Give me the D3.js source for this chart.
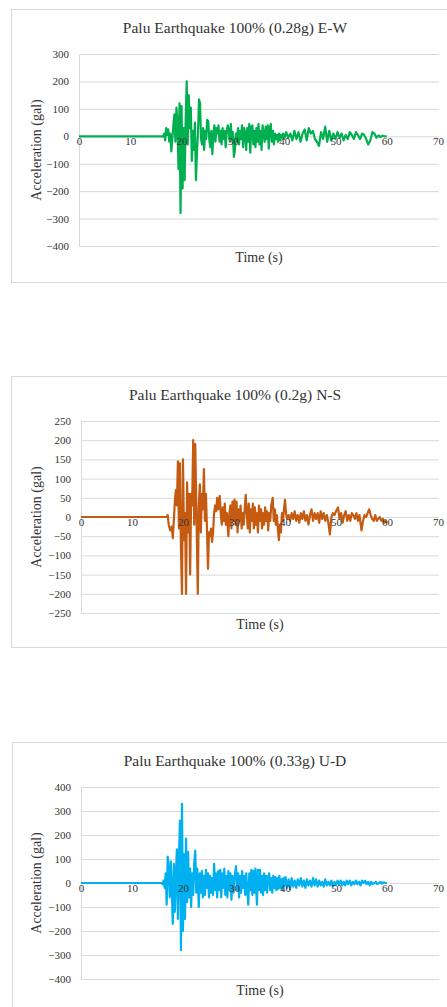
<!DOCTYPE html>
<html>
<head>
<meta charset="utf-8">
<script src="https://cdn.jsdelivr.net/npm/d3@7"></script>
<style>
  body {margin: 0; background: #fff;}
  svg text {font-family: "Liberation Serif", "Times New Roman", serif; fill: #333;}
</style>
</head>
<body>
<div class="container"></div>
<script>
// time ticks shared by all three records
let timeTicks = [0, 10, 20, 30, 40, 50, 60, 70];

let titles = [
  "Palu Earthquake 100% (0.28g) E-W",
  "Palu Earthquake 100% (0.2g) N-S",
  "Palu Earthquake 100% (0.33g) U-D"
];

let ewTicks = [-400, -300, -200, -100, 0, 100, 200, 300];
let nsTicks = [-250, -200, -150, -100, -50, 0, 50, 100, 150, 200, 250];
let udTicks = [-400, -300, -200, -100, 0, 100, 200, 300, 400];

// [time (s), acceleration (gal)]
let ewRecord = [[0,0],[16.4,0],[16.6,10],[16.8,-15],[17.0,30],[17.2,5],[17.4,25],[17.6,-20],[17.8,10],[18.0,-55],[18.2,-10],[18.4,40],[18.6,80],[18.8,-20],[19.0,105],[19.2,50],[19.4,-120],[19.6,120],[19.8,-280],[20.0,110],[20.2,-190],[20.4,30],[20.6,-160],[20.8,60],[21.0,200],[21.2,-30],[21.4,150],[21.6,30],[21.8,105],[22.0,-90],[22.2,20],[22.4,-50],[22.6,50],[22.8,-160],[23.0,-60],[23.2,10],[23.4,135],[23.6,120],[23.8,-10],[24.0,-30],[24.2,30],[24.4,-50],[24.6,20],[24.8,-10],[25.0,60],[25.2,55],[25.4,-10],[25.6,-40],[25.8,20],[26.0,-65],[26.2,10],[26.4,40],[26.6,-20],[26.8,30],[27.0,10],[27.2,40],[27.4,-20],[27.6,20],[27.8,-30],[28.0,30],[28.2,-10],[28.4,20],[28.6,-40],[28.8,15],[29.0,40],[29.2,20],[29.4,-20],[29.6,45],[29.8,-10],[30.0,15],[30.2,-75],[30.4,-50],[30.6,10],[30.8,-20],[31.0,30],[31.2,-30],[31.4,20],[31.6,-10],[31.8,40],[32.0,-40],[32.2,30],[32.4,10],[32.6,-50],[32.8,30],[33.0,-20],[33.2,45],[33.4,-60],[33.6,35],[33.8,40],[34.0,-30],[34.2,20],[34.4,-40],[34.6,30],[34.8,-20],[35.0,45],[35.2,-30],[35.4,20],[35.6,-50],[35.8,40],[36.0,10],[36.2,-20],[36.4,35],[36.6,-10],[36.8,40],[37.0,-45],[37.2,30],[37.4,45],[37.6,-20],[37.8,20],[38.0,-30],[38.2,10],[38.4,-10],[38.6,5],[38.8,-20],[39.0,10],[39.2,-15],[39.4,5],[39.6,-5],[39.8,10],[40.0,-10],[40.4,15],[40.8,-5],[41.2,10],[41.6,-15],[42.0,20],[42.4,-10],[42.8,15],[43.2,-20],[43.6,10],[44.0,25],[44.4,-15],[44.8,30],[45.2,10],[45.6,20],[46.0,-10],[46.4,-20],[46.8,-35],[47.2,15],[47.6,-10],[48.0,35],[48.4,-20],[48.8,20],[49.2,-15],[49.6,10],[50.0,-10],[50.4,15],[50.8,-5],[51.2,10],[51.6,-15],[52.0,5],[52.4,-10],[52.8,15],[53.2,5],[53.6,-10],[54.0,15],[54.4,5],[54.8,-10],[55.2,10],[55.6,5],[56.0,-10],[56.4,-30],[56.8,-15],[57.2,15],[57.6,10],[58.0,-5],[58.4,3],[58.8,-3],[59.2,2],[59.6,0],[60.0,0]];

let nsRecord = [[0,0],[16.8,0],[17.0,5],[17.2,-20],[17.5,-35],[17.8,-25],[18.0,-55],[18.2,-10],[18.4,40],[18.6,70],[18.8,30],[19.0,145],[19.2,-30],[19.4,140],[19.6,-80],[19.8,-200],[20.0,150],[20.2,-60],[20.4,10],[20.6,-200],[20.8,90],[21.0,-40],[21.2,60],[21.4,-150],[21.6,60],[21.8,30],[22.0,200],[22.2,-20],[22.4,190],[22.6,40],[22.9,-200],[23.1,30],[23.3,85],[23.5,-40],[23.7,60],[23.9,20],[24.1,125],[24.3,-10],[24.5,60],[24.7,-30],[24.9,-135],[25.1,-40],[25.3,-50],[25.5,-30],[25.7,-65],[25.9,-40],[26.1,10],[26.3,30],[26.5,15],[26.7,50],[26.9,20],[27.2,55],[27.4,10],[27.6,-20],[27.8,25],[28.0,-10],[28.2,35],[28.4,-20],[28.6,10],[28.9,-50],[29.1,10],[29.3,30],[29.5,-30],[29.7,40],[29.9,-10],[30.1,45],[30.3,-20],[30.5,40],[30.7,-40],[30.9,20],[31.1,-10],[31.3,30],[31.5,-30],[31.7,10],[31.9,-20],[32.1,20],[32.3,58],[32.5,10],[32.7,-30],[32.9,35],[33.1,-40],[33.3,20],[33.5,-10],[33.7,35],[33.9,-30],[34.1,25],[34.3,-20],[34.5,10],[34.7,-40],[34.9,30],[35.1,-10],[35.3,20],[35.5,-30],[35.7,10],[35.9,-20],[36.1,25],[36.3,-10],[36.5,15],[36.7,-35],[36.9,10],[37.1,-10],[37.3,30],[37.6,50],[37.8,-10],[38.0,20],[38.2,-20],[38.4,5],[38.6,-30],[38.8,-60],[39.0,-20],[39.2,-40],[39.4,10],[39.6,-10],[39.8,20],[40.0,45],[40.2,10],[40.4,-5],[40.7,5],[41.0,-10],[41.3,10],[41.6,-5],[41.9,15],[42.2,-10],[42.5,5],[42.8,-15],[43.1,10],[43.4,-5],[43.7,15],[44.0,-10],[44.3,5],[44.6,-20],[44.9,5],[45.2,20],[45.5,-10],[45.8,10],[46.1,-5],[46.4,10],[46.7,-15],[47.0,15],[47.3,-5],[47.6,10],[47.9,-10],[48.2,5],[48.5,-15],[48.8,-45],[49.1,0],[49.4,10],[49.7,5],[50.0,15],[50.4,25],[50.7,-5],[51.0,10],[51.3,-15],[51.6,5],[51.9,15],[52.2,-10],[52.5,5],[52.8,-10],[53.1,10],[53.4,5],[53.7,-5],[54.0,10],[54.3,-10],[54.6,5],[55.0,-35],[55.3,-10],[55.6,5],[55.9,0],[56.2,10],[56.5,20],[56.8,5],[57.1,-5],[57.4,-10],[57.7,5],[58.0,-10],[58.3,-5],[58.6,0],[58.9,-10],[59.2,-5],[59.5,-15],[59.8,-10],[60.0,-15]];

let udRecord = [[0,0],[15.8,0],[16.0,-5],[16.2,10],[16.4,-20],[16.6,40],[16.8,-90],[17.0,110],[17.2,60],[17.4,-60],[17.6,90],[17.8,-30],[18.0,-170],[18.2,80],[18.4,-120],[18.6,30],[18.8,140],[19.0,-150],[19.2,100],[19.4,260],[19.6,-280],[19.8,330],[20.0,-200],[20.2,120],[20.4,-150],[20.6,185],[20.8,-80],[21.0,130],[21.2,-60],[21.4,60],[21.6,-100],[21.8,40],[22.0,-50],[22.2,80],[22.4,135],[22.6,-40],[22.8,60],[23.1,-100],[23.3,40],[23.5,-40],[23.7,50],[23.9,-60],[24.1,30],[24.3,-50],[24.5,55],[24.7,-20],[24.9,40],[25.1,-60],[25.3,30],[25.5,-40],[25.7,20],[25.9,-50],[26.1,80],[26.3,-30],[26.5,40],[26.7,-60],[26.9,50],[27.1,-30],[27.3,55],[27.5,-60],[27.7,40],[27.9,-20],[28.1,60],[28.3,-50],[28.5,30],[28.7,-60],[28.9,50],[29.1,-30],[29.3,40],[29.5,-70],[29.7,30],[29.9,-40],[30.1,20],[30.4,70],[30.6,-30],[30.8,40],[31.0,-60],[31.2,30],[31.4,-40],[31.6,50],[31.8,-20],[32.0,30],[32.2,-50],[32.4,40],[32.6,-30],[32.8,-90],[33.0,40],[33.2,-30],[33.4,55],[33.6,-50],[33.8,50],[34.0,-40],[34.2,60],[34.5,-90],[34.7,55],[34.9,-30],[35.1,55],[35.3,-40],[35.5,30],[35.7,-50],[35.9,40],[36.1,-30],[36.3,30],[36.5,-40],[36.7,25],[36.9,40],[37.1,-30],[37.3,20],[37.5,-40],[37.7,30],[37.9,-20],[38.1,25],[38.3,-30],[38.5,20],[38.7,-25],[38.9,30],[39.1,-20],[39.3,15],[39.5,-30],[39.7,20],[39.9,-10],[40.1,25],[40.4,-20],[40.7,15],[41.0,-25],[41.3,20],[41.6,-15],[41.9,10],[42.2,-20],[42.5,15],[42.8,-10],[43.1,20],[43.4,-15],[43.7,10],[44.0,-20],[44.3,15],[44.6,-10],[44.9,10],[45.2,-15],[45.5,20],[45.8,-10],[46.1,15],[46.4,-15],[46.7,10],[47.0,-10],[47.3,5],[47.6,-15],[47.9,15],[48.2,-10],[48.5,5],[48.8,-10],[49.1,10],[49.4,-15],[49.7,5],[50.0,-10],[50.3,10],[50.6,-5],[50.9,10],[51.2,-10],[51.5,5],[51.8,-10],[52.1,10],[52.4,-5],[52.7,10],[53.0,-10],[53.3,5],[53.6,-5],[53.9,10],[54.2,-5],[54.5,5],[54.8,-10],[55.1,10],[55.4,0],[55.7,10],[56.0,-5],[56.3,5],[56.6,-10],[56.9,5],[57.2,-5],[57.5,0],[57.8,5],[58.1,-5],[58.4,0],[58.7,5],[59.0,-3],[59.3,3],[59.6,0],[60.0,0]];

let width = 447, height = 1007;

let svg = d3.select(".container").append("svg")
    .attr("width", width)
    .attr("height", height);

// panel frames and plot areas (pixels)
let panels = [
  {title: titles[0], ticks: ewTicks, data: ewRecord, color: "#00b050",
   box: [11, 9, 282], left: 79, right: 439, top: 54, bottom: 246},
  {title: titles[1], ticks: nsTicks, data: nsRecord, color: "#c55a11",
   box: [11, 376, 647], left: 81, right: 439, top: 421, bottom: 613},
  {title: titles[2], ticks: udTicks, data: udRecord, color: "#00b0f0",
   box: [12, 742, 1030], left: 81, right: 439, top: 787, bottom: 979}
];

let serif = "'Liberation Serif', 'Times New Roman', serif";

let drawPanel = (p) => {
  let g = svg.append("g");

  g.append("rect")
    .attr("x", p.box[0] + 0.5)
    .attr("y", p.box[1] + 0.5)
    .attr("width", 460)
    .attr("height", p.box[2] - p.box[1])
    .style("fill", "#fff")
    .style("stroke", "#d9d9d9");

  let x = d3.scaleLinear().domain([0, 70]).range([p.left, p.right - 1]);
  let y = d3.scaleLinear()
    .domain([p.ticks[0], p.ticks[p.ticks.length - 1]])
    .range([p.bottom, p.top]);

  let yAxis = g.append("g")
    .attr("transform", "translate(" + p.left + ",0)")
    .call(d3.axisLeft(y).tickValues(p.ticks)
      .tickSize(-(p.right - p.left)).tickSizeOuter(0).tickPadding(10));
  yAxis.attr("font-family", serif);
  yAxis.selectAll("line").style("stroke", "#d9d9d9");
  yAxis.select(".domain").style("stroke", "#d9d9d9");
  yAxis.selectAll("text").style("font-size", "11px");

  g.append("path")
    .datum(p.data)
    .attr("d", d3.line().x(d => x(d[0])).y(d => y(d[1])))
    .style("fill", "none")
    .style("stroke", p.color)
    .style("stroke-width", 2.2)
    .style("stroke-linejoin", "round");

  let xAxis = g.append("g")
    .attr("transform", "translate(0," + y(0) + ")")
    .call(d3.axisBottom(x).tickValues(timeTicks).tickSize(0).tickPadding(1));
  xAxis.attr("font-family", serif);
  xAxis.select(".domain").remove();
  xAxis.selectAll("text").style("font-size", "11px");

  g.append("text")
    .text(p.title)
    .attr("text-anchor", "middle")
    .attr("x", 235)
    .attr("y", p.box[1] + 24)
    .style("font-size", "15.5px");

  g.append("text")
    .text("Acceleration (gal)")
    .attr("text-anchor", "middle")
    .attr("transform", "translate(41," + (p.top + p.bottom) / 2 + ") rotate(-90)")
    .style("font-size", "14px");

  g.append("text")
    .text("Time (s)")
    .attr("text-anchor", "middle")
    .attr("x", (p.left + p.right) / 2)
    .attr("y", p.bottom + 15.5)
    .style("font-size", "14px");
}

panels.forEach(drawPanel);
</script>
</body>
</html>
